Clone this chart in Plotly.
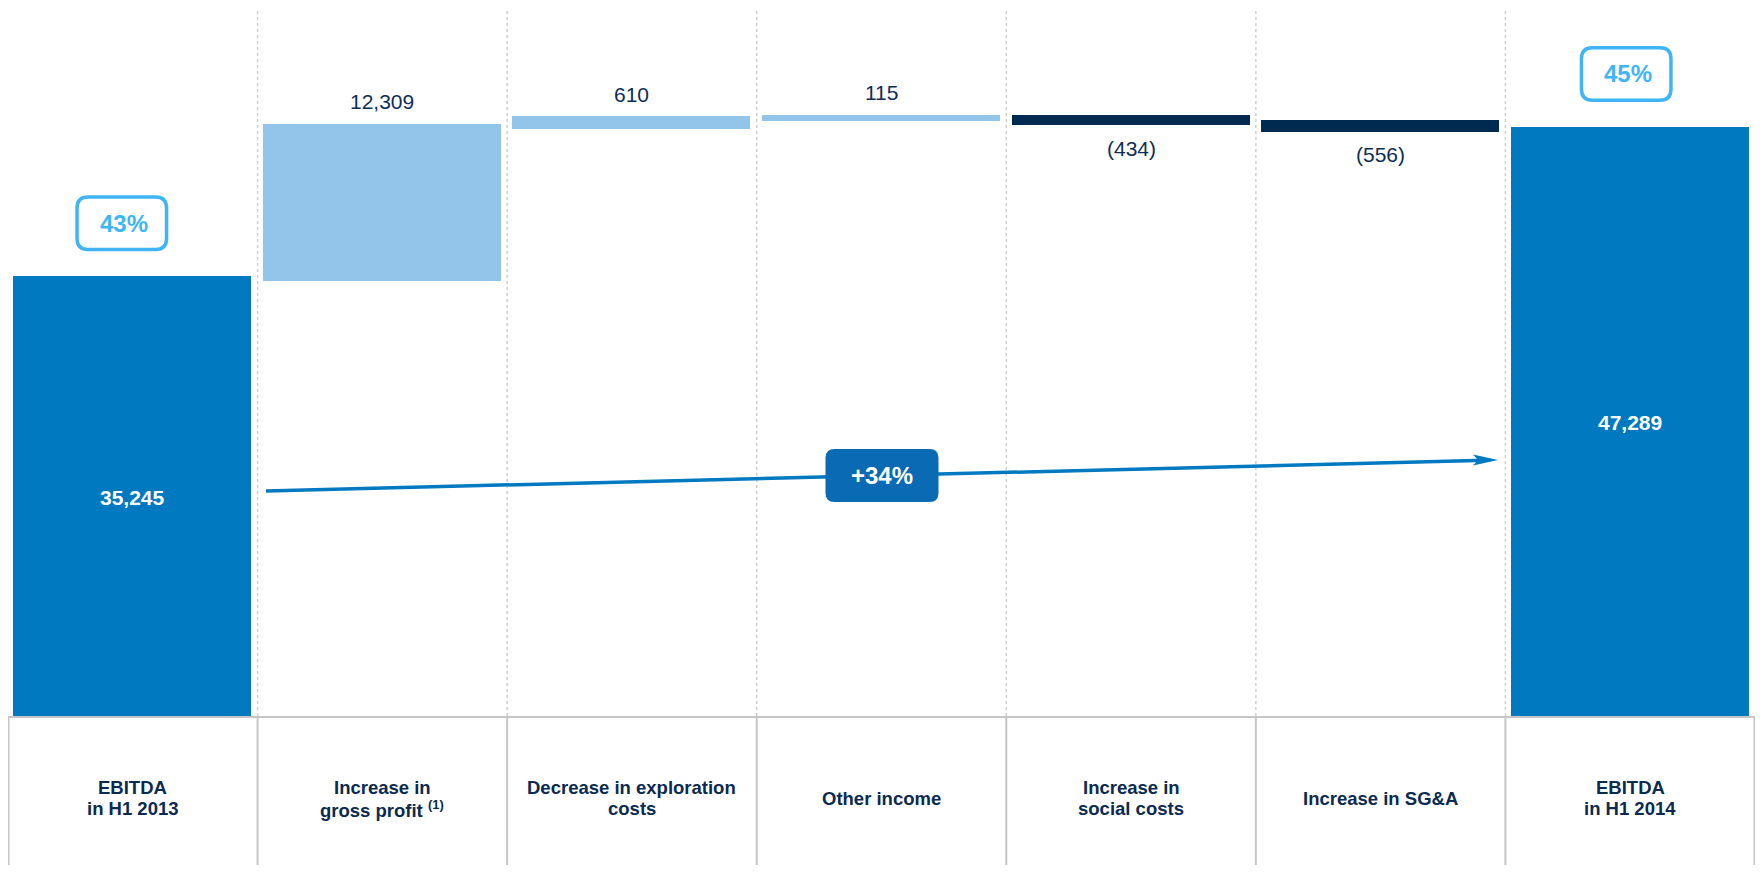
import plotly.graph_objects as go

# ---------------- data ----------------
categories = [
    "EBITDA<br>in H1 2013",
    "Increase in<br>gross profit <sup>(1)</sup>",
    "Decrease in exploration<br>costs",
    "Other income",
    "Increase in<br>social costs",
    "Increase in SG&A",
    "EBITDA<br>in H1 2014",
]
values = [35245, 12309, 610, 115, -434, -556, 47289]
measures = ["total", "relative", "relative", "relative", "relative", "relative", "total"]
margin_labels = ["43%", "45%"]

# ---------------- style ----------------
FONT = "Liberation Sans, Arial, Helvetica, sans-serif"
C_TOTAL = "#0079C1"
C_INC = "#93C5EB"
C_DEC = "#002A50"
C_TEXT = "#0E2D55"
C_CAT = "#0B2A4F"
C_PCT = "#3FB5F6"
C_GROWTH = "#0A6AB4"
C_GRID = "#CFCFCF"
C_BOX = "#C6C6C6"

BODY = 8                      # default page margin around the figure
W, H = 1763 - 2 * BODY, 873 - 2 * BODY
ML, MR, MT = 0, 0, 0
PLOT_BOTTOM = 716             # page y of the baseline
MB = H - (PLOT_BOTTOM - BODY)
YMAX = 57129
BAR_W = 0.9336
PLOT_W = W - ML - MR
PLOT_H = H - MT - MB


def px_x(px):
    return (px - BODY - ML) / PLOT_W


def px_y(py):
    return (PLOT_BOTTOM - py) / PLOT_H


# ---------------- derived waterfall geometry ----------------
bases = []
running = 0
for v, m in zip(values, measures):
    if m == "total":
        bases.append(0)
        running = v
    else:
        bases.append(running)
        running += v

colors = []
for v, m in zip(values, measures):
    if m == "total":
        colors.append(C_TOTAL)
    elif v >= 0:
        colors.append(C_INC)
    else:
        colors.append(C_DEC)

xs = list(range(len(categories)))

fig = go.Figure()
fig.add_trace(go.Bar(
    x=xs, y=values, base=bases, width=BAR_W,
    marker=dict(color=colors, line=dict(color=colors, width=5)),
    hoverinfo="skip", showlegend=False,
))


def fmt(v):
    return f"{v:,}" if v >= 0 else f"({abs(v):,})"


def rrect(cx, cy, w, h, r):
    x0, x1 = cx - w / 2, cx + w / 2
    y0, y1 = cy - h / 2, cy + h / 2
    return (f"M {x0 + r},{y0} L {x1 - r},{y0} Q {x1},{y0} {x1},{y0 + r} "
            f"L {x1},{y1 - r} Q {x1},{y1} {x1 - r},{y1} L {x0 + r},{y1} "
            f"Q {x0},{y1} {x0},{y1 - r} L {x0},{y0 + r} Q {x0},{y0} {x0 + r},{y0} Z")


annotations = []
shapes = []

# value labels
for i, (v, m, b) in enumerate(zip(values, measures, bases)):
    if m == "total":
        annotations.append(dict(
            x=i, y=v / 2, xref="x", yref="y", text=fmt(v), showarrow=False,
            font=dict(family=FONT, size=21, color="white", weight="bold"),
            xanchor="center", yanchor="middle"))
    else:
        end = b + v
        annotations.append(dict(
            x=i, y=end, xref="x", yref="y", text=fmt(v), showarrow=False,
            yshift=25 if v >= 0 else -25,
            font=dict(family=FONT, size=21, color=C_TEXT),
            xanchor="center", yanchor="middle"))

# category labels in the table below (one annotation per line for tight leading)
n = len(categories)
LINE_H = 21
for i, c in enumerate(categories):
    lines = c.split("<br>")
    for j, line in enumerate(lines):
        annotations.append(dict(
            x=i, y=px_y(798), xref="x", yref="paper", text=line, showarrow=False,
            yshift=((len(lines) - 1) / 2 - j) * LINE_H,
            font=dict(family=FONT, size=18.5, color=C_CAT, weight="bold"),
            xanchor="center", yanchor="middle", align="center"))

# dotted separators in the plot area
for k in range(1, n):
    shapes.append(dict(type="line", xref="paper", yref="paper",
                       x0=k / n, x1=k / n, y0=0, y1=1.02, layer="below",
                       line=dict(color=C_GRID, width=1.5, dash="dot")))

# table lines below
shapes.append(dict(type="line", xref="paper", yref="paper",
                   x0=0, x1=1, y0=px_y(717), y1=px_y(717),
                   line=dict(color=C_BOX, width=2)))
for k in range(0, n + 1):
    xk = min(max(k / n, 0.5 / PLOT_W), 1 - 0.5 / PLOT_W)
    shapes.append(dict(type="line", xref="paper", yref="paper",
                       x0=xk, x1=xk, y0=px_y(717), y1=px_y(900),
                       line=dict(color=C_BOX, width=2)))

# growth arrow
tail = (px_x(266), px_y(491))
head = (px_x(1498), px_y(460))
t_end = 1 - 12 / (1498 - 266)
shapes.append(dict(type="line", xref="paper", yref="paper",
                   x0=tail[0], y0=tail[1],
                   x1=tail[0] + (head[0] - tail[0]) * t_end,
                   y1=tail[1] + (head[1] - tail[1]) * t_end,
                   line=dict(color=C_TOTAL, width=3.5)))
shapes.append(dict(type="path", xref="paper", yref="paper",
                   xsizemode="pixel", ysizemode="pixel",
                   xanchor=head[0], yanchor=head[1],
                   path="M 0,0 L -25,5.5 L -20,0 L -25,-5.5 Z",
                   fillcolor=C_TOTAL, line=dict(width=0)))

mid = ((tail[0] + head[0]) / 2, (tail[1] + head[1]) / 2)
shapes.append(dict(type="path", xref="paper", yref="paper",
                   xsizemode="pixel", ysizemode="pixel",
                   xanchor=mid[0], yanchor=mid[1],
                   path=rrect(0, 0, 113, 53, 9),
                   fillcolor=C_GROWTH, line=dict(width=0)))
growth = values[-1] / values[0] - 1
annotations.append(dict(
    x=mid[0], y=mid[1], xref="paper", yref="paper",
    text=f"+{round(growth * 100)}%", showarrow=False,
    font=dict(family=FONT, size=24, color="white", weight="bold"),
    xanchor="center", yanchor="middle"))

# EBITDA margin boxes above the totals
total_idx = [i for i, m in enumerate(measures) if m == "total"]
box_dx = [-11, -4]
for j, i in enumerate(total_idx):
    shapes.append(dict(type="path", xref="x", yref="y",
                       xsizemode="pixel", ysizemode="pixel",
                       xanchor=i, yanchor=values[i],
                       path=rrect(box_dx[j], 56, 89.5, 52.5, 11),
                       fillcolor="white", line=dict(color=C_PCT, width=3.5)))
    annotations.append(dict(
        x=i, y=values[i], xref="x", yref="y", text=margin_labels[j],
        showarrow=False, xshift=box_dx[j] + 2, yshift=56,
        font=dict(family=FONT, size=24, color=C_PCT, weight="bold"),
        xanchor="center", yanchor="middle"))

fig.update_layout(
    width=W, height=H,
    margin=dict(l=ML, r=MR, t=MT, b=MB, pad=0),
    paper_bgcolor="white", plot_bgcolor="white",
    xaxis=dict(range=[-0.5, n - 0.5], showticklabels=False, showgrid=False,
               zeroline=False, showline=False, ticks="", fixedrange=True),
    yaxis=dict(range=[0, YMAX], showticklabels=False, showgrid=False,
               zeroline=False, showline=False, ticks="", fixedrange=True),
    annotations=annotations,
    shapes=shapes,
    bargap=0,
    showlegend=False,
)

fig.write_html("out.html")
